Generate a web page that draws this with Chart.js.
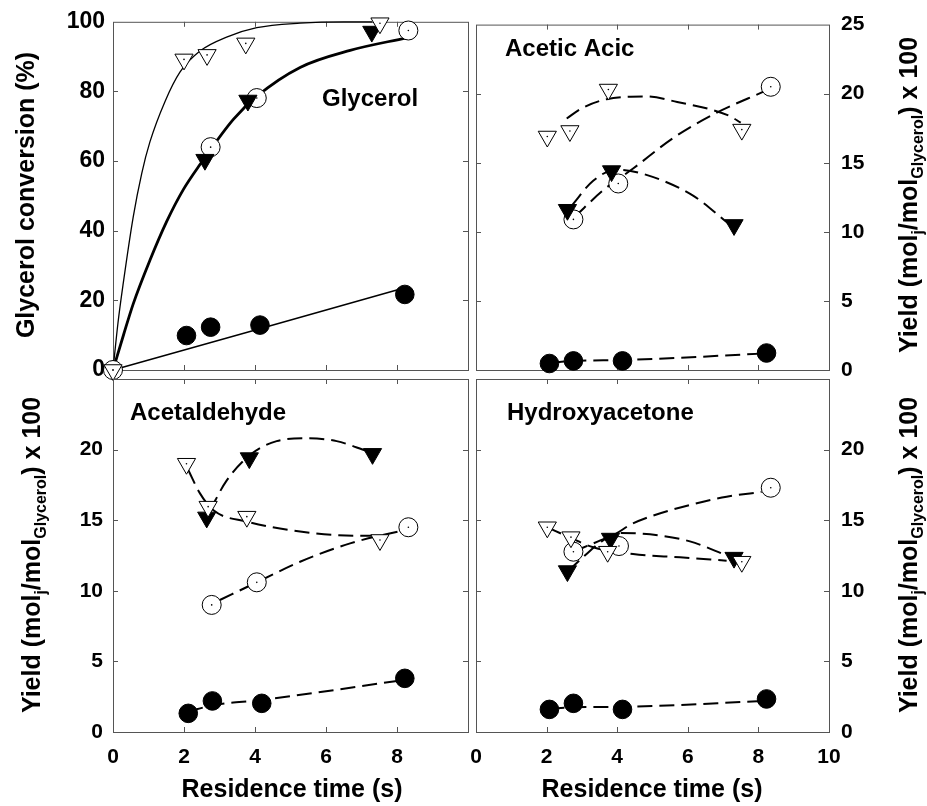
<!DOCTYPE html>
<html>
<head>
<meta charset="utf-8">
<script src="https://cdn.jsdelivr.net/npm/chart.js@4.4.0/dist/chart.umd.min.js"></script>
<style>
html, body { margin: 0; padding: 0; background: #fff; }
#wrap { position: relative; width: 927px; height: 806px; }
#wrap canvas { position: absolute; left: 0; top: 0; }
</style>
</head>
<body>
<div id="wrap">
  <canvas id="gly" width="927" height="806"></canvas>
  <canvas id="ace" width="927" height="806"></canvas>
  <canvas id="ald" width="927" height="806"></canvas>
  <canvas id="hya" width="927" height="806"></canvas>
</div>
<script>
// tick labels
const timeLabelsLeft = [0, 2, 4, 6, 8];
const timeLabelsRight = [0, 2, 4, 6, 8, 10];
const timeInner = [2, 4, 6, 8];
const convLabels = [0, 20, 40, 60, 80, 100];
const convInner = [20, 40, 60, 80];
const yieldLabelsTop = [0, 5, 10, 15, 20, 25];
const yieldLabelsBottom = [0, 5, 10, 15, 20];
const yieldInner = [5, 10, 15, 20];

// Glycerol conversion (%) : [residence time, value]
const glyOpenTri = [[0, 0], [2.0, 89.2], [2.65, 90.5], [3.74, 93.8], [7.52, 99.6]];
const glyFillTri = [[2.59, 60.4], [3.8, 77.4], [7.29, 97.2]];
const glyOpenCirc = [[0, 0], [2.75, 64.0], [4.05, 78.1], [8.32, 97.5]];
const glyFillCirc = [[2.07, 9.9], [2.75, 12.3], [4.14, 12.9], [8.22, 21.7]];
const glyFitFast = [[0, 0], [0.14, 13.5], [0.29, 25.0], [0.57, 44.0], [0.81, 56.5], [1.04, 65.5], [1.46, 77.0], [1.89, 85.6], [2.45, 91.6], [3.2, 95.6], [4.05, 98.3], [5.27, 99.6], [6.5, 100], [7.3, 100]];
const glyFitMid = [[0, 0], [0.3, 10.2], [0.57, 19.0], [1.04, 31.5], [1.51, 42.6], [1.98, 51.8], [2.45, 59.0], [3.39, 72.0], [4.05, 78.6], [5.27, 86.9], [6.68, 91.8], [8.27, 95.4]];
const glyFitLin = [[0, 0], [8.22, 23.6]];

// Acetic acid yield
const aceOpenTri = [[2.02, 16.9], [2.66, 17.3], [3.75, 20.3], [7.53, 17.4]];
const aceFillTri = [[2.59, 11.6], [3.84, 14.4], [7.31, 10.5]];
const aceOpenCirc = [[2.76, 10.9], [4.03, 13.5], [8.35, 20.5]];
const aceFillCirc = [[2.08, 0.47], [2.76, 0.66], [4.15, 0.66], [8.23, 1.23]];
const aceFitOpenTri = [[2.57, 18.2], [3.0, 18.95], [3.7, 19.6], [4.8, 19.8], [5.7, 19.4], [7.17, 18.4], [7.5, 17.9]];
const aceFitFillTri = [[2.71, 11.9], [3.32, 13.7], [3.98, 14.5], [4.73, 14.2], [6.16, 12.6], [7.15, 10.6]];
const aceFitOpenCirc = [[2.8, 11.1], [3.6, 13.0], [4.46, 14.6], [5.59, 16.8], [6.72, 18.5], [8.19, 20.2]];
const aceFitFillCirc = [[2.08, 0.5], [2.76, 0.66], [4.15, 0.72], [8.23, 1.2]];

// Acetaldehyde yield
const aldOpenTri = [[2.07, 19.0], [2.68, 15.96], [3.77, 15.25], [7.52, 13.6]];
const aldFillTri = [[2.64, 15.2], [3.84, 19.4], [7.31, 19.7]];
const aldOpenCirc = [[2.78, 9.0], [4.05, 10.6], [8.32, 14.5]];
const aldFillCirc = [[2.12, 1.32], [2.8, 2.2], [4.19, 2.03], [8.22, 3.8]];
const aldFitOpenTri = [[2.12, 18.55], [2.45, 16.9], [2.83, 15.7], [3.77, 14.9], [5.27, 14.2], [6.9, 13.9], [7.3, 13.9]];
const aldFitFillTri = [[2.73, 15.7], [3.2, 17.8], [3.9, 19.7], [4.61, 20.6], [5.46, 20.8], [6.3, 20.6], [7.15, 19.9]];
const aldFitOpenCirc = [[3.01, 9.35], [4.05, 10.6], [5.27, 12.06], [6.68, 13.36], [8.2, 14.3]];
const aldFitFillCirc = [[2.12, 1.45], [2.83, 1.9], [4.19, 2.27], [8.18, 3.68]];

// Hydroxyacetone yield
const hyaOpenTri = [[2.02, 14.5], [2.69, 13.8], [3.73, 12.77], [7.53, 12.06]];
const hyaFillTri = [[2.59, 11.4], [3.81, 13.7], [7.31, 12.35]];
const hyaOpenCirc = [[2.76, 12.77], [4.05, 13.17], [8.35, 17.3]];
const hyaFillCirc = [[2.08, 1.6], [2.76, 2.03], [4.15, 1.6], [8.23, 2.34]];
const hyaFitOpenTri = [[2.02, 14.5], [2.68, 13.75], [3.32, 13.08], [4.45, 12.6], [5.78, 12.37], [7.1, 12.13]];
const hyaFitFillTri = [[2.61, 11.4], [3.04, 12.4], [3.56, 13.5], [4.08, 14.1], [4.93, 14.0], [6.06, 13.5], [7.1, 12.5], [7.3, 12.3]];
const hyaFitOpenCirc = [[2.76, 12.77], [3.46, 13.5], [3.98, 14.07], [4.36, 14.66], [4.93, 15.25], [6.06, 16.08], [7.1, 16.66], [8.09, 17.0]];
const hyaFitFillCirc = [[2.08, 1.65], [2.76, 1.75], [4.15, 1.78], [8.2, 2.2]];

const FONT = "'Liberation Sans', Arial, Helvetica, sans-serif";
const FRAME = '#555';
const AXW = 100; // room kept for y tick labels
const AXH = 50;  // room kept for x tick labels

function pts(a) { return a.map(p => ({ x: p[0], y: p[1] })); }

function markers(openTri, fillTri, openCirc, fillCirc) {
  const base = { showLine: false, clip: false, order: 1, pointBorderColor: '#000', pointBorderWidth: 1 };
  return [
    { ...base, data: pts(openTri), pointStyle: 'triangle', pointRotation: 180, pointRadius: 10.5, pointBackgroundColor: '#fff' },
    { ...base, data: pts(fillTri), pointStyle: 'triangle', pointRotation: 180, pointRadius: 10.5, pointBackgroundColor: '#000' },
    { ...base, data: pts(openCirc), pointStyle: 'circle', pointRadius: 9.5, pointBackgroundColor: '#fff' },
    { ...base, data: pts(fillCirc), pointStyle: 'circle', pointRadius: 9.3, pointBackgroundColor: '#000' },
    // little dot in the open symbols
    { ...base, order: 0, data: pts(openTri), pointStyle: 'circle', pointRadius: 0.8, pointBorderWidth: 0, pointBackgroundColor: '#000' },
    { ...base, order: 0, data: pts(openCirc), pointStyle: 'circle', pointRadius: 0.8, pointBorderWidth: 0, pointBackgroundColor: '#000' }
  ];
}

function curve(data, width, dashed) {
  return {
    data: pts(data), showLine: true, pointRadius: 0, order: 2, clip: false,
    borderColor: '#000', borderWidth: width, borderDash: dashed ? [15, 7] : [],
    cubicInterpolationMode: 'monotone'
  };
}

// draw text pieces (with subscripts) centred on cx, baseline at by
function richText(ctx, parts, cx, by, rotated) {
  ctx.save();
  ctx.translate(cx, by);
  if (rotated) ctx.rotate(-Math.PI / 2);
  let total = 0;
  parts.forEach(p => { ctx.font = 'bold ' + p.size + 'px ' + FONT; p.w = ctx.measureText(p.t).width; total += p.w; });
  let x = -total / 2;
  ctx.textBaseline = 'alphabetic';
  ctx.textAlign = 'left';
  parts.forEach(p => {
    ctx.font = 'bold ' + p.size + 'px ' + FONT;
    ctx.fillText(p.t, x, p.dy || 0);
    x += p.w;
  });
  ctx.restore();
}

const yieldTitle = [
  { t: 'Yield (mol', size: 25 }, { t: 'j', size: 16, dy: 6 }, { t: '/mol', size: 25 },
  { t: 'Glycerol', size: 16, dy: 6 }, { t: ') x 100', size: 25 }
];

const panelPlugin = {
  id: 'panel',
  beforeDatasetsDraw(chart, args, o) {
    const { ctx, chartArea: a, scales: { x, y } } = chart;
    ctx.save();
    ctx.strokeStyle = FRAME;
    ctx.lineWidth = 1;
    ctx.strokeRect(a.left + 0.5, a.top + 0.5, a.right - a.left, a.bottom - a.top);
    ctx.beginPath();
    timeInner.forEach(v => {
      const px = Math.round(x.getPixelForValue(v)) + 0.5;
      ctx.moveTo(px, a.top); ctx.lineTo(px, a.top + 5);
      ctx.moveTo(px, a.bottom); ctx.lineTo(px, a.bottom - 5);
    });
    o.yInner.forEach(v => {
      const py = Math.round(y.getPixelForValue(v)) + 0.5;
      ctx.moveTo(a.left, py); ctx.lineTo(a.left + 5, py);
      ctx.moveTo(a.right, py); ctx.lineTo(a.right - 5, py);
    });
    ctx.stroke();
    ctx.restore();
  },
  afterDraw(chart, args, o) {
    const ctx = chart.ctx;
    ctx.save();
    ctx.fillStyle = '#000';
    ctx.font = 'bold 24px ' + FONT;
    ctx.textBaseline = 'alphabetic';
    ctx.fillText(o.label, o.lx, o.ly);
    ctx.restore();
    if (o.xTitle) richText(ctx, [{ t: 'Residence time (s)', size: 25 }], o.xTitle[0], o.xTitle[1], false);
    richText(ctx, o.yTitle, o.yTitlePos[0], o.yTitlePos[1], true);
  }
};

function makePanel(id, box, c) {
  const [L, T, R, B] = box;
  const xh = c.xLabels ? AXH : 0;
  const pad = {
    left: c.yPos === 'left' ? L - AXW : L,
    right: c.yPos === 'right' ? 927 - R - AXW : 927 - R,
    top: T,
    bottom: 806 - B - xh
  };
  return new Chart(document.getElementById(id), {
    type: 'scatter',
    data: { datasets: c.datasets },
    plugins: [panelPlugin],
    options: {
      responsive: false, animation: false, events: [],
      layout: { autoPadding: false, padding: pad },
      plugins: {
        legend: { display: false }, tooltip: { enabled: false },
        panel: c.panel
      },
      scales: {
        x: {
          type: 'linear', min: 0, max: 10,
          afterFit(s) { s.height = xh; },
          afterBuildTicks(s) { s.ticks = (c.xLabels || []).map(v => ({ value: v })); },
          grid: { display: false, drawTicks: false }, border: { display: false },
          ticks: { display: !!c.xLabels, autoSkip: false, maxRotation: 0, padding: 13, color: '#000', font: { family: FONT, size: 21, weight: 'bold' } }
        },
        y: {
          type: 'linear', min: 0, max: c.ymax, position: c.yPos,
          afterFit(s) { s.width = AXW; },
          afterBuildTicks(s) { s.ticks = c.yLabels.map(v => ({ value: v })); },
          grid: { display: false, drawTicks: false }, border: { display: false },
          ticks: { autoSkip: false, padding: c.yPad, color: '#000', font: { family: FONT, size: c.yFont, weight: 'bold' } }
        }
      }
    }
  });
}

makePanel('gly', [113, 17, 468, 370], {
  ymax: 100, yPos: 'left', yLabels: convLabels, yFont: 23, yPad: 8,
  datasets: [
    curve(glyFitFast, 1.3, false), curve(glyFitMid, 2.8, false), curve(glyFitLin, 1.5, false),
    ...markers(glyOpenTri, glyFillTri, glyOpenCirc, glyFillCirc)
  ],
  panel: { yInner: convInner, label: 'Glycerol', lx: 322, ly: 106,
    yTitle: [{ t: 'Glycerol conversion (%)', size: 25 }], yTitlePos: [34, 195] }
});

makePanel('ace', [476, 17, 829, 370], {
  ymax: 25, yPos: 'right', yLabels: yieldLabelsTop, yFont: 21, yPad: 12,
  datasets: [
    curve(aceFitOpenTri, 2, true), curve(aceFitFillTri, 2, true), curve(aceFitOpenCirc, 2, true), curve(aceFitFillCirc, 2, true),
    ...markers(aceOpenTri, aceFillTri, aceOpenCirc, aceFillCirc)
  ],
  panel: { yInner: yieldInner, label: 'Acetic Acic', lx: 505, ly: 56,
    yTitle: yieldTitle, yTitlePos: [917, 195] }
});

makePanel('ald', [113, 379, 468, 732], {
  ymax: 25, yPos: 'left', yLabels: yieldLabelsBottom, yFont: 21, yPad: 10, xLabels: timeLabelsLeft,
  datasets: [
    curve(aldFitOpenTri, 2, true), curve(aldFitFillTri, 2, true), curve(aldFitOpenCirc, 2, true), curve(aldFitFillCirc, 2, true),
    ...markers(aldOpenTri, aldFillTri, aldOpenCirc, aldFillCirc)
  ],
  panel: { yInner: yieldInner, label: 'Acetaldehyde', lx: 130, ly: 420,
    xTitle: [292, 797], yTitle: yieldTitle, yTitlePos: [40, 555] }
});

makePanel('hya', [476, 379, 829, 732], {
  ymax: 25, yPos: 'right', yLabels: yieldLabelsBottom, yFont: 21, yPad: 12, xLabels: timeLabelsRight,
  datasets: [
    curve(hyaFitOpenTri, 2, true), curve(hyaFitFillTri, 2, true), curve(hyaFitOpenCirc, 2, true), curve(hyaFitFillCirc, 2, true),
    ...markers(hyaOpenTri, hyaFillTri, hyaOpenCirc, hyaFillCirc)
  ],
  panel: { yInner: yieldInner, label: 'Hydroxyacetone', lx: 507, ly: 420,
    xTitle: [652, 797], yTitle: yieldTitle, yTitlePos: [917, 555] }
});
</script>
</body>
</html>
